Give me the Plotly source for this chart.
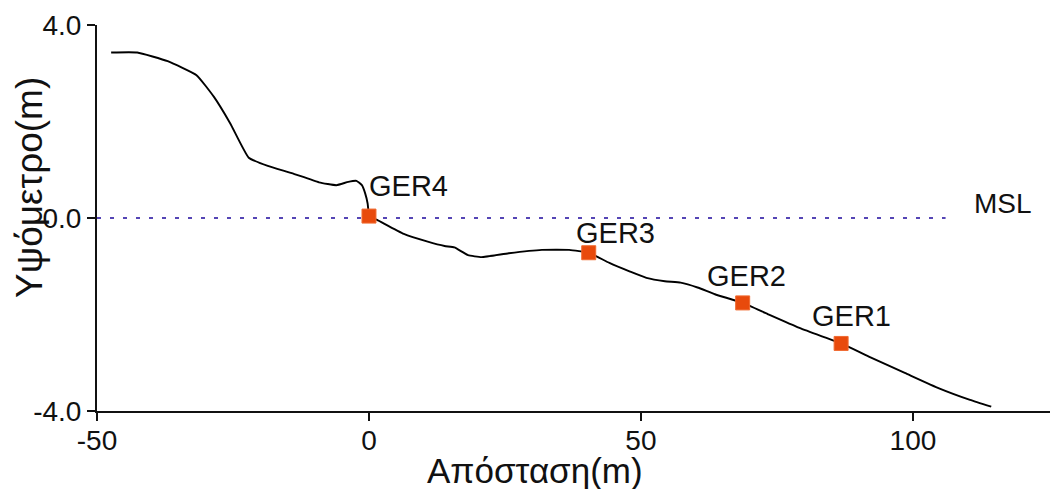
import plotly.graph_objects as go

# Profile (distance m, elevation m)
profile_x = [-47.4, -42.6, -37.0, -31.7, -28.5, -25.5, -22.1, -18.6, -14.2, -9.2, -6.0, -3.8, -2.3,
             -1.3, -0.7, -0.25, -0.06, 0.0, 1.5, 6.4, 10.8, 13.9, 15.7, 18.2, 20.7, 25.7, 31.8,
             36.8, 40.4, 44.2, 48.0, 51.0, 54.4, 57.3, 60.4, 63.6, 68.7, 73.3, 79.0, 86.8,
             92.2, 98.5, 104.8, 110.5, 114.4]
profile_y = [3.43, 3.43, 3.25, 2.96, 2.51, 1.96, 1.25, 1.08, 0.93, 0.74, 0.68, 0.75, 0.77,
             0.68, 0.51, 0.30, 0.10, 0.04, -0.04, -0.33, -0.49, -0.58, -0.61, -0.77, -0.81, -0.73, -0.66,
             -0.66, -0.72, -0.93, -1.11, -1.24, -1.31, -1.34, -1.44, -1.58, -1.76, -1.99, -2.27, -2.60,
             -2.89, -3.21, -3.53, -3.77, -3.91]

# Stations
station_names = ["GER4", "GER3", "GER2", "GER1"]
station_x = [0.0, 40.4, 68.7, 86.8]
station_y = [0.04, -0.72, -1.76, -2.60]

# Mean sea level line
msl_x = [-50, 106]
msl_y = [0, 0]

x_ticks = [-50, 0, 50, 100]
x_tick_text = ["-50", "0", "50", "100"]
y_ticks = [-4, 0, 4]
y_tick_text = ["-4.0", "0.0", "4.0"]

FONT = "Arial, 'Liberation Sans', sans-serif"
INK = "#111111"

fig = go.Figure()
fig.add_trace(go.Scatter(x=msl_x, y=msl_y, mode="lines",
                         line=dict(color="#5545b5", width=2, dash="4px,9px"),
                         hoverinfo="skip", showlegend=False))
fig.add_trace(go.Scatter(x=profile_x, y=profile_y, mode="lines",
                         line=dict(color="#000000", width=1.9, shape="spline", smoothing=0.4),
                         showlegend=False))
fig.add_trace(go.Scatter(x=station_x, y=station_y, mode="markers",
                         marker=dict(symbol="square", size=14, color="#e84a0c",
                                     line=dict(color="#f06a30", width=1)),
                         showlegend=False))

label_shifts = [(40, 30), (27, 20), (4, 27), (10, 27)]
for name, sx, sy, (dx, dy) in zip(station_names, station_x, station_y, label_shifts):
    fig.add_annotation(x=sx, y=sy, text=name, showarrow=False, xshift=dx, yshift=dy,
                       font=dict(family=FONT, size=29, color=INK))

fig.add_annotation(x=116.5, y=0.31, text="MSL", showarrow=False,
                   font=dict(family=FONT, size=28, color=INK))

fig.add_annotation(xref="paper", yref="paper", x=0.46, y=-0.155, yanchor="middle",
                   text="Απόσταση(m)", showarrow=False,
                   font=dict(family=FONT, size=35, color=INK))
fig.add_annotation(xref="paper", yref="paper", x=-0.0703, y=0.578, xanchor="center", yanchor="middle",
                   text="Υψόμετρο(m)", textangle=-90, showarrow=False,
                   font=dict(family=FONT, size=37, color=INK))

fig.update_layout(
    width=1050, height=489,
    margin=dict(l=97, r=0, t=25, b=78),
    paper_bgcolor="white", plot_bgcolor="white",
    font=dict(family=FONT, color=INK),
    showlegend=False,
)
fig.update_xaxes(range=[-50, 125.2], tickvals=x_ticks, ticktext=x_tick_text, showgrid=False,
                 zeroline=False, showline=True, linecolor=INK, linewidth=2,
                 ticks="outside", ticklen=8, tickwidth=1.5, tickcolor=INK,
                 ticklabelstandoff=-5,
                 tickfont=dict(family=FONT, size=28, color=INK))
fig.update_yaxes(range=[-4, 4], tickvals=y_ticks, ticktext=y_tick_text, showgrid=False,
                 zeroline=False, showline=True, linecolor=INK, linewidth=2,
                 ticks="outside", ticklen=8, tickwidth=1.5, tickcolor=INK,
                 tickfont=dict(family=FONT, size=28, color=INK))

fig.write_html("out.html", config={"displayModeBar": False},
               post_script="document.body.style.margin='0';document.body.style.overflow='hidden';")
